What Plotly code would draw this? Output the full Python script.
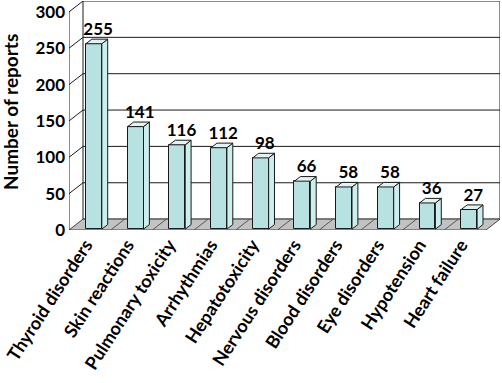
import plotly.graph_objects as go

categories = ["Thyroid disorders", "Skin reactions", "Pulmonary toxicity", "Arrhythmias",
              "Hepatotoxicity", "Nervous disorders", "Blood disorders", "Eye disorders",
              "Hypotension", "Heart failure"]
reports = [255, 141, 116, 112, 98, 66, 58, 58, 36, 27]
y_ticks = [0, 50, 100, 150, 200, 250, 300]

# 3D projection parameters (data units)
DX = 0.336   # depth offset along x (category units)
DY = 15.0    # depth offset along y (value units)
YMAX = 300
F0, F1 = 0.08, 0.50   # bar depth start / end as fraction of floor depth
BW = 0.38             # bar width
XS = 0.07             # bar shift to the right
N = len(categories)

FRONT = "#b8e1e1"
SIDE = "#cdeeee"
TOP = "#dff5f5"
EDGE = "#1a1a1a"
FONT = "Lato"
FW = "bold"

fig = go.Figure()
shapes = []

def sh_poly(xs, ys, fill, color=EDGE, width=1):
    path = "M " + " L ".join(f"{x},{y}" for x, y in zip(xs, ys)) + " Z"
    shapes.append(dict(type="path", path=path, xref="x", yref="y", fillcolor=fill,
                       line=dict(color=color, width=width), layer="below"))

def sh_line(xa, ya, xb, yb, color=EDGE, width=1):
    shapes.append(dict(type="line", x0=xa, y0=ya, x1=xb, y1=yb, xref="x", yref="y",
                       line=dict(color=color, width=width), layer="below"))

def poly(xs, ys, fill, width=1, color=EDGE):
    fig.add_trace(go.Scatter(x=xs + [xs[0]], y=ys + [ys[0]], mode="lines", fill="toself",
                             fillcolor=fill, line=dict(color=color, width=width),
                             hoverinfo="skip", showlegend=False, cliponaxis=False))

x0, x1 = -0.5, N - 0.5
# back wall
sh_poly([x0 + DX, x1 + DX, x1 + DX, x0 + DX], [DY, DY, YMAX + DY, YMAX + DY], "white")
# floor
sh_poly([x0, x1, x1 + DX, x0 + DX], [0, 0, DY, DY], "#c2c2c2", color="#444444")
for k in range(1, N):
    sh_line(x0 + k, 0, x0 + k + DX, DY, color="#555555")
# gridlines on back wall and diagonal ticks
for t in y_ticks:
    if 0 < t < YMAX:
        sh_line(x0 + DX, t + DY, x1 + DX, t + DY)
    if t > 0:
        sh_line(x0, t, x0 + DX, t + DY)
# front y axis
sh_line(x0, 0, x0, YMAX)

# bars: side and top faces
for i, v in enumerate(reports):
    fx = i + XS - BW / 2 + F0 * DX
    fy = F0 * DY
    ddx = (F1 - F0) * DX
    ddy = (F1 - F0) * DY
    poly([fx + BW, fx + BW + ddx, fx + BW + ddx, fx + BW],
         [fy, fy + ddy, v + fy + ddy, v + fy], SIDE)
    poly([fx, fx + BW, fx + BW + ddx, fx + ddx],
         [v + fy, v + fy, v + fy + ddy, v + fy + ddy], TOP)

# bars: front faces
fig.add_trace(go.Bar(x=[i + XS + F0 * DX for i in range(N)], y=reports, base=F0 * DY, width=BW,
                     marker=dict(color=FRONT, line=dict(color=EDGE, width=1)),
                     hoverinfo="skip", showlegend=False))

# value labels
fig.add_trace(go.Scatter(
    x=[i + XS + (F0 + F1) / 2 * DX + 0.03 for i in range(N)],
    y=[v + F1 * DY for v in reports],
    mode="text", text=[str(v) for v in reports], textposition="top center",
    textfont=dict(family=FONT, size=17, color="black", weight=FW),
    hoverinfo="skip", showlegend=False, cliponaxis=False))

fig.update_layout(
    width=502, height=383,
    margin=dict(l=69, r=2, t=1, b=153),
    paper_bgcolor="white", plot_bgcolor="white",
    bargap=0,
    shapes=shapes,
    font=dict(family=FONT, color="black"),
    xaxis=dict(range=[x0, x1 + DX], tickmode="array", tickvals=[i - 0.1 for i in range(N)],
               ticktext=categories, tickangle=-57, showgrid=False, zeroline=False,
               showline=False, ticks="", automargin=False, ticklabeloverflow="allow",
               tickfont=dict(family=FONT, size=18, color="black", weight=FW)),
    yaxis=dict(range=[0, YMAX + DY], tickmode="array", tickvals=y_ticks,
               ticktext=[str(t) for t in y_ticks], showgrid=False, zeroline=False,
               showline=False, ticks="", automargin=False, ticklabelstandoff=3,
               ticklabeloverflow="allow",
               tickfont=dict(family=FONT, size=17, color="black", weight=FW)),
    annotations=[dict(text="Number of reports", textangle=-90, xref="paper", yref="paper",
                      x=(10 - 69) / 431, y=(230 - 112) / 229, xanchor="center", yanchor="middle",
                      showarrow=False,
                      font=dict(family=FONT, size=19, color="black", weight=FW))],
)

fig.write_html("out.html", config={"displayModeBar": False},
               post_script="document.body.style.margin='0';")
